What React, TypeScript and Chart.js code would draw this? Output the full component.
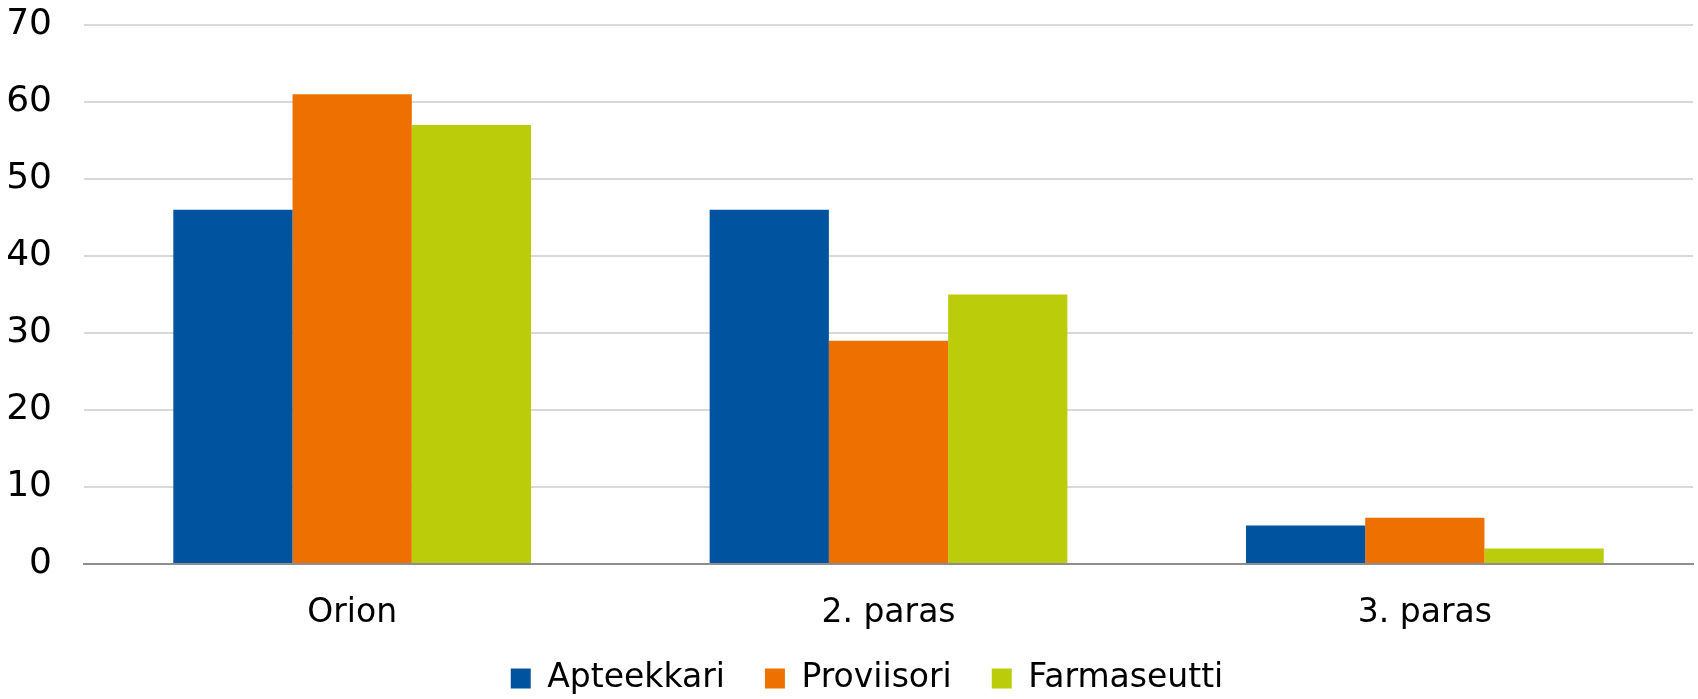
import React, { useEffect, useRef } from "react";
import { Chart, registerables } from "chart.js";

Chart.register(...registerables);

const categories = ["Orion", "2. paras", "3. paras"];
const seriesNames = ["Apteekkari", "Proviisori", "Farmaseutti"];
const apteekkari = [46, 46, 5];
const proviisori = [61, 29, 6];
const farmaseutti = [57, 35, 2];
const seriesColors = ["#00549F", "#ED7000", "#BBCC0A"];
const yMin = 0;
const yMax = 70;
const yStep = 10;

const FONT = "'DejaVu Sans', sans-serif";
const LEGEND_FIT_H = 67;
const LEGEND_SHIFT_X = 18;
const LEGEND_TOP_SHIFT = -10;
const X_AXIS_H = 68;

const legendFitPlugin = {
  id: "legendFit",
  beforeLayout(chart: any) {
    const lg = chart.legend;
    if (lg && !lg._patchedFit) {
      const orig = lg.fit;
      lg.fit = function () {
        orig.call(this);
        this.height = LEGEND_FIT_H;
      };
      lg._patchedFit = true;
    }
  },
  afterLayout(chart: any) {
    const lg = chart.legend;
    if (lg) {
      lg.left += LEGEND_SHIFT_X;
      lg.right += LEGEND_SHIFT_X;
      lg.top += LEGEND_TOP_SHIFT;
      lg.height = lg.bottom - lg.top;
    }
  },
};

export default function App() {
  const ref = useRef<HTMLCanvasElement | null>(null);

  useEffect(() => {
    if (!ref.current) return;
    const values = [apteekkari, proviisori, farmaseutti];
    const chart = new Chart(ref.current, {
      type: "bar",
      data: {
        labels: categories,
        datasets: seriesNames.map((name, i) => ({
          label: name,
          data: values[i],
          backgroundColor: seriesColors[i],
          borderWidth: 0,
          categoryPercentage: 0.667,
          barPercentage: 1,
        })),
      },
      options: {
        animation: false,
        responsive: true,
        maintainAspectRatio: false,
        layout: { padding: { left: 5, right: 5, top: 25, bottom: 0 } },
        plugins: {
          tooltip: { enabled: false },
          legend: {
            position: "bottom",
            labels: {
              boxWidth: 20,
              boxHeight: 20,
              padding: 40,
              color: "#000",
              font: { family: FONT, size: 33 },
            },
          },
        },
        scales: {
          x: {
            grid: { display: false, drawTicks: false },
            border: { display: true, color: "#8E8E8E", width: 2 },
            ticks: {
              color: "#000",
              padding: 30,
              font: { family: FONT, size: 33 },
              maxRotation: 0,
            },
            afterFit(scale: any) {
              scale.height = X_AXIS_H;
              scale.paddingLeft = 0;
              scale.paddingRight = 0;
            },
          },
          y: {
            min: yMin,
            max: yMax,
            ticks: {
              stepSize: yStep,
              color: "#000",
              padding: 32,
              font: { family: FONT, size: 36 },
            },
            grid: {
              drawTicks: false,
              lineWidth: 2,
              color: (ctx: any) =>
                ctx.tick && ctx.tick.value === 0 ? "rgba(0,0,0,0)" : "#D9D9D9",
            },
            border: { display: false },
            afterFit(scale: any) {
              scale.width = 79;
              scale.paddingTop = 0;
              scale.paddingBottom = 0;
            },
          },
        },
      },
      plugins: [legendFitPlugin],
    });
    return () => chart.destroy();
  }, []);

  return (
    <div
      style={{
        position: "fixed",
        left: 0,
        top: 0,
        width: "1698px",
        height: "699px",
        background: "#fff",
      }}
    >
      <canvas ref={ref} />
    </div>
  );
}
